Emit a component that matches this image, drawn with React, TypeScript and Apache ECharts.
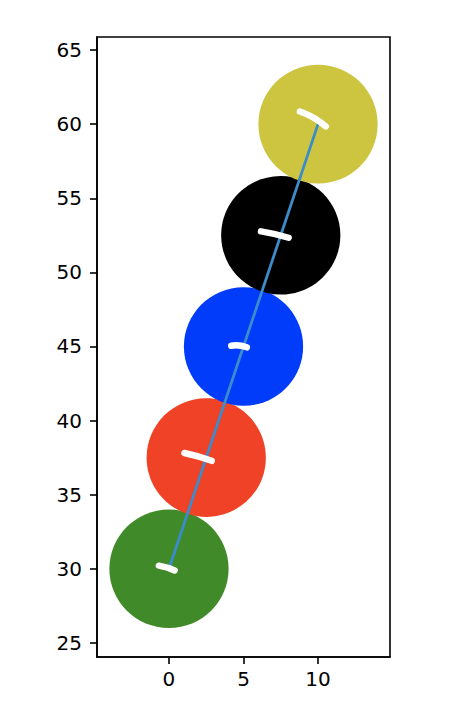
import React, { useEffect, useRef } from "react";
import * as echarts from "echarts";

const circleX = [0, 2.5, 5, 7.5, 10];
const circleY = [30, 37.5, 45, 52.5, 60];
const circleR = [4, 4, 4, 4, 4];
const circleColors = ["#418a29", "#ef4226", "#003cfa", "#000000", "#cdc43f"];

const markerX = [-0.15, 1.95, 4.7, 7.1, 9.65];
const markerY = [30.05, 37.55, 45.0, 52.55, 60.35];
const markerLen = [1.1, 1.9, 1.05, 1.9, 2.0];
const markerAngle = [17, 16, 6, 13, 30];
const markerBend = [1, 1, 2, 1, 3];

const xTicks = [0, 5, 10];
const yTicks = [25, 30, 35, 40, 45, 50, 55, 60, 65];

const xMin = -4.83;
const xMax = 14.83;
const yMin = 24.05;
const yMax = 65.88;

export default function App() {
  const ref = useRef<HTMLDivElement>(null);
  useEffect(() => {
    if (!ref.current) return;
    const chart = echarts.init(ref.current, null, { renderer: "svg" });
    const font = "DejaVu Sans";
    const circleData = circleX.map((x, i) => [x, circleY[i], circleR[i], i]);
    const markerData = markerX.map((x, i) => [x, markerY[i], markerLen[i], markerAngle[i], markerBend[i]]);
    const lineData = circleX.map((x, i) => [x, circleY[i]]);
    chart.setOption({
      animation: false,
      backgroundColor: "#ffffff",
      grid: {
        left: 97,
        right: 84,
        top: 37,
        bottom: 57,
        show: true,
        borderColor: "#000",
        borderWidth: 1.6,
        backgroundColor: "transparent",
      },
      xAxis: {
        type: "value",
        min: xMin,
        max: xMax,
        splitLine: { show: false },
        axisLine: { show: true, onZero: false, lineStyle: { color: "#000", width: 1.6 } },
        axisTick: { show: true, customValues: xTicks, length: 7, lineStyle: { color: "#000", width: 1.6 } },
        axisLabel: {
          customValues: xTicks,
          color: "#000",
          fontFamily: font,
          fontSize: 20,
          margin: 12,
        },
      },
      yAxis: {
        type: "value",
        min: yMin,
        max: yMax,
        splitLine: { show: false },
        axisLine: { show: true, onZero: false, lineStyle: { color: "#000", width: 1.6 } },
        axisTick: { show: true, customValues: yTicks, length: 7, lineStyle: { color: "#000", width: 1.6 } },
        axisLabel: {
          customValues: yTicks,
          color: "#000",
          fontFamily: font,
          fontSize: 20,
          margin: 15,
        },
      },
      series: [
        {
          type: "custom",
          data: circleData,
          z: 1,
          renderItem: (params: any, api: any) => {
            const c = api.coord([api.value(0), api.value(1)]);
            const s = api.size([api.value(2), api.value(2)]);
            const idx = api.value(3);
            return {
              type: "ellipse",
              shape: { cx: c[0], cy: c[1], rx: s[0], ry: s[1] },
              style: { fill: circleColors[idx] },
            };
          },
        },
        {
          type: "line",
          data: lineData,
          z: 2,
          symbol: "none",
          lineStyle: { color: "#3c8ccc", width: 2.8 },
        },
        {
          type: "custom",
          data: markerData,
          z: 3,
          renderItem: (params: any, api: any) => {
            const c = api.coord([api.value(0), api.value(1)]);
            const s = api.size([api.value(2), 0]);
            const half = s[0] / 2;
            const a = (api.value(3) * Math.PI) / 180;
            const b = api.value(4);
            const dx = Math.cos(a) * half;
            const dy = Math.sin(a) * half;
            const nx = Math.sin(a) * b;
            const ny = -Math.cos(a) * b;
            return {
              type: "bezierCurve",
              shape: {
                x1: c[0] - dx,
                y1: c[1] - dy,
                x2: c[0] + dx,
                y2: c[1] + dy,
                cpx1: c[0] + nx,
                cpy1: c[1] + ny,
              },
              style: { stroke: "#ffffff", lineWidth: 6.5, lineCap: "round", fill: null },
            };
          },
        },
      ],
    });
    return () => chart.dispose();
  }, []);
  return (
    <div
      ref={ref}
      style={{ position: "fixed", left: 0, top: 0, width: 474, height: 714 }}
    />
  );
}
